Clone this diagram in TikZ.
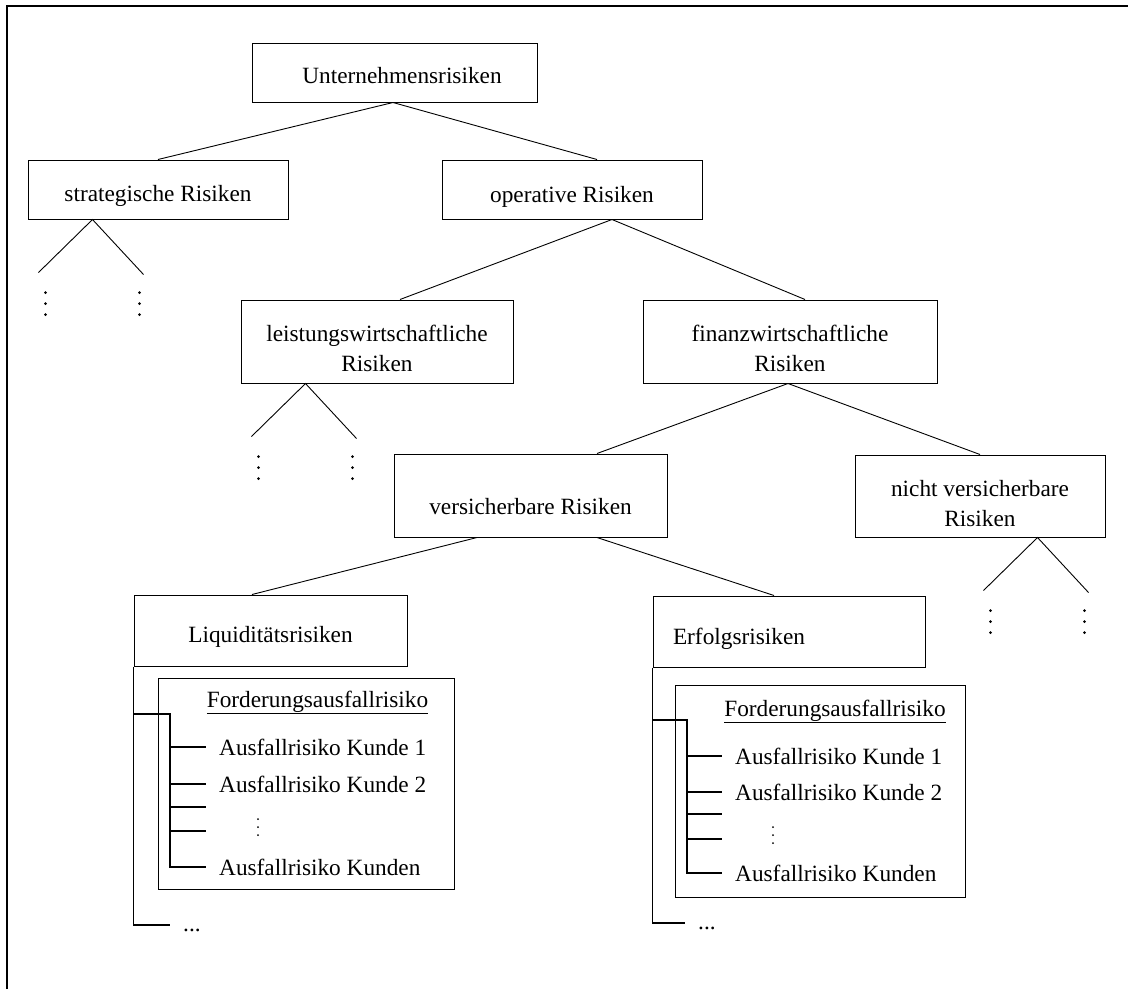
\documentclass[tikz,border=0pt]{standalone}
\usepackage{fontspec}
\setmainfont{Liberation Serif}
\newcommand{\hoch}[1]{\rule{0pt}{#1pt}}
\tikzset{
 box/.style={draw,line width=1pt,inner sep=0pt,align=center},
 ast/.style={line width=0.9pt},
 baum/.style={line width=1.7pt},
 blatt/.style={anchor=west,inner xsep=13pt,inner ysep=0pt,text height=16pt,text depth=0pt}
}
\begin{document}
\begin{tikzpicture}[x=1pt,y=-1pt,font=\fontsize{23.3}{30}\selectfont]
\useasboundingbox (0,0) rectangle (1128,989);
\draw[line width=2.2pt] (7,989)--(7,6)--(1128,6);
% Kaesten
\path
 (394.5,72.5) node[box,minimum width=285,minimum height=59] (U) {\hspace*{15pt}\hoch{23}Unternehmensrisiken}
 (158,189.5) node[box,minimum width=260,minimum height=59] (S) {\hoch{30}strategische Risiken}
 (572,189.5) node[box,minimum width=260,minimum height=59] (O) {\hoch{30}operative Risiken}
 (377,341.5) node[box,minimum width=272,minimum height=83] (L) {\hoch{31}leistungswirtschaftliche\\Risiken}
 (790,341.5) node[box,minimum width=294,minimum height=83] (F) {\hoch{31}finanzwirtschaftliche\\Risiken}
 (530.5,495.5) node[box,minimum width=273,minimum height=83] (V) {\hoch{39}versicherbare Risiken}
 (980,496) node[box,minimum width=250,minimum height=82] (N) {\hoch{31}nicht versicherbare\\Risiken}
 (270.5,630.5) node[box,minimum width=273,minimum height=71] (Li) {\hoch{28}Liquiditätsrisiken}
 (789,631.5) node[box,minimum width=272,minimum height=71] (E) {\hspace*{-100pt}\hoch{31}Erfolgsrisiken}
 (306,783.5) node[box,minimum width=296,minimum height=211] (FL) {}
 (820,791) node[box,minimum width=290,minimum height=212] (FE) {};
% Anschlusspunkte
\path ([xshift=-1.5]U.south) coordinate (u0)
 ([xshift=25]O.north) coordinate (o1)
 ([xshift=40]O.south) coordinate (o0)
 ([xshift=23]L.north) coordinate (l1)
 ([xshift=15]F.north) coordinate (f1)
 ([xshift=-2]F.south) coordinate (f0)
 ([xshift=66.5]V.north) coordinate (v1)
 ([xshift=-53.5]V.south) coordinate (v0)
 ([xshift=66.5]V.south) coordinate (v2)
 ([xshift=-18.5]Li.north) coordinate (li1)
 ([xshift=-15]E.north) coordinate (e1);
\foreach \a/\b in {u0/S.north,u0/o1,o0/l1,o0/f1,f0/v1,f0/N.north,v0/li1,v2/e1}
 \draw[ast] (\a)--(\b);
% offene Aeste
\path ([xshift=65]S.south west) coordinate (s0)
 ([xshift=65]L.south west) coordinate (l0)
 ([xshift=183]N.south west) coordinate (n0);
\foreach \p in {s0,l0,n0}{
 \draw[ast] (\p) ++(-54,53) -- (\p) -- ++(51,55);
 \foreach \dy in {73,84,95}
 \fill (\p) ++(-47,\dy) circle (1.5) (\p) ++(47,\dy) circle (1.5);
}
% Forderungsausfallrisiko links
\path
 (317.5,707) node[anchor=base,inner sep=0pt] (tl) {\underline{Forderungsausfallrisiko}}
 (206,747) node[blatt] (k1) {Ausfallrisiko Kunde 1}
 (206,784) node[blatt] (k2) {Ausfallrisiko Kunde 2}
 (206,867) node[blatt] (kn) {Ausfallrisiko Kunden}
 (170,925) node[blatt,text height=12pt] (pl) {...}
 (206,807) coordinate (leer1)
 (206,831) coordinate (leer2)
 (170,714) coordinate (a1);
\foreach \dy in {-8,0,8}
 \fill (258,{827+\dy}) circle (1);
\draw[baum] (Li.south west) |- (pl);
\draw[baum] (Li.south west |- a1) -- (a1) |- (kn);
\foreach \b in {k1,k2,leer1,leer2}
 \draw[baum] (a1 |- \b) -- (\b);
% Forderungsausfallrisiko rechts
\path
 (835,716) node[anchor=base,inner sep=0pt] (tr) {\underline{Forderungsausfallrisiko}}
 (722,756) node[blatt] (m1) {Ausfallrisiko Kunde 1}
 (722,792) node[blatt] (m2) {Ausfallrisiko Kunde 2}
 (722,873) node[blatt] (mn) {Ausfallrisiko Kunden}
 (685,923) node[blatt,text height=12pt] (pr) {...}
 (722,814) coordinate (leer3)
 (722,839) coordinate (leer4)
 (687,720) coordinate (a2);
\foreach \dy in {-8,0,8}
 \fill (773,{835+\dy}) circle (1);
\draw[baum] (E.south west) |- (pr);
\draw[baum] (E.south west |- a2) -- (a2) |- (mn);
\foreach \b in {m1,m2,leer3,leer4}
 \draw[baum] (a2 |- \b) -- (\b);
\end{tikzpicture}
\end{document}
